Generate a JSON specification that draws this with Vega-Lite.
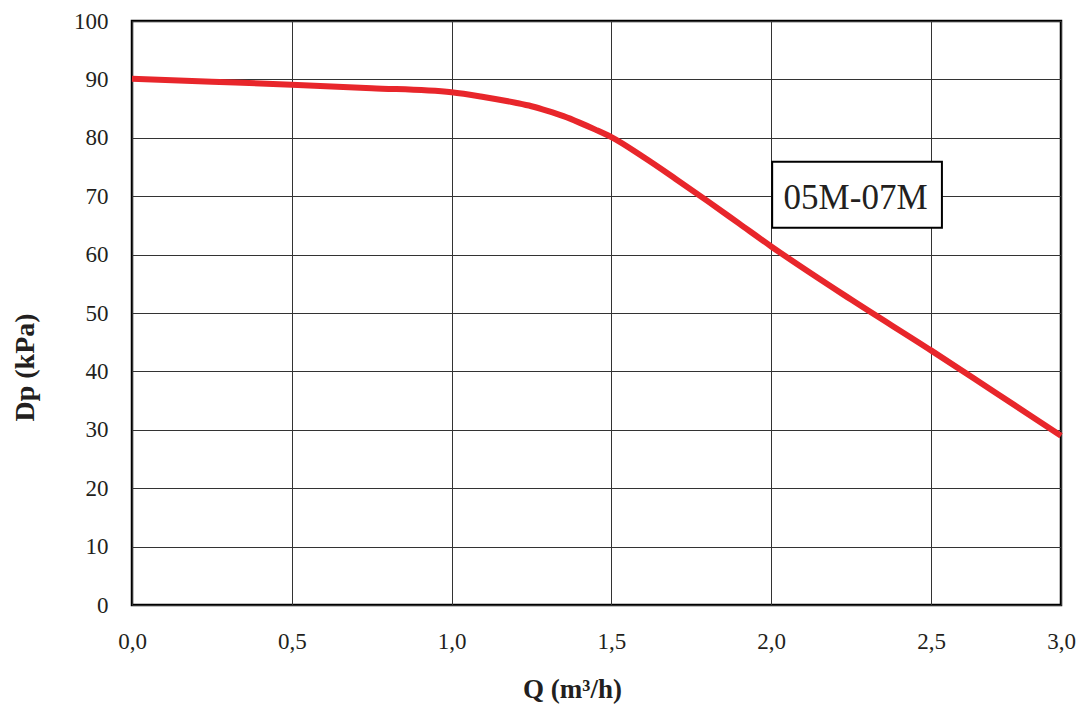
{
  "$schema": "https://vega.github.io/schema/vega-lite/v6.json",
  "width": 929,
  "height": 584,
  "autosize": {"type": "none"},
  "padding": {"left": 132, "top": 21, "right": 17, "bottom": 99},
  "background": "white",
  "config": {
    "view": {"stroke": "black", "strokeWidth": 2.5},
    "font": "Liberation Serif"
  },
  "datasets": {
    "curve": [
      {"Q": 0.0, "Dp": 90.1},
      {"Q": 0.25, "Dp": 89.6},
      {"Q": 0.5, "Dp": 89.1},
      {"Q": 0.75, "Dp": 88.5},
      {"Q": 1.0, "Dp": 87.8},
      {"Q": 1.1, "Dp": 87.0},
      {"Q": 1.2, "Dp": 86.0},
      {"Q": 1.25, "Dp": 85.4},
      {"Q": 1.3, "Dp": 84.6},
      {"Q": 1.35, "Dp": 83.7},
      {"Q": 1.4, "Dp": 82.6},
      {"Q": 1.45, "Dp": 81.4},
      {"Q": 1.5, "Dp": 80.1},
      {"Q": 1.6, "Dp": 76.7},
      {"Q": 1.7, "Dp": 73.0},
      {"Q": 1.8, "Dp": 69.2},
      {"Q": 1.9, "Dp": 65.3},
      {"Q": 2.0, "Dp": 61.4},
      {"Q": 2.25, "Dp": 52.3},
      {"Q": 2.5, "Dp": 43.6},
      {"Q": 2.75, "Dp": 36.3},
      {"Q": 3.0, "Dp": 29.0}
    ],
    "box": [
      {"Q": 2.003, "Q2": 2.542, "Dp": 75.9, "Dp2": 64.6}
    ],
    "label": [
      {"Q": 2.264, "Dp": 67.8, "name": "05M-07M"}
    ]
  },
  "layer": [
    {
      "data": {"name": "curve"},
      "mark": {"type": "line", "interpolate": "monotone", "color": "#e8262b", "strokeWidth": 6},
      "encoding": {
        "x": {
          "field": "Q",
          "type": "quantitative",
          "scale": {"domain": [0, 2.5, 3], "range": [0, 799, 929], "nice": false},
          "axis": {
            "values": [0, 0.5, 1, 1.5, 2, 2.5, 3],
            "labelExpr": "replace(format(datum.value, '.1f'), '.', ',')",
            "ticks": false,
            "domain": false,
            "labelFlush": false,
            "labelOverlap": false,
            "labelBound": false,
            "labelFont": "Liberation Serif",
            "labelFontSize": 23,
            "labelColor": "#231f20",
            "labelPadding": 25,
            "gridColor": "#333333",
            "gridWidth": 1,
            "gridOpacity": 1,
            "title": "Q (m³/h)",
            "titleFont": "Liberation Serif",
            "titleFontSize": 27,
            "titleFontWeight": "bold",
            "titleColor": "#231f20",
            "titleX": 440,
            "titleY": 92,
            "titleAlign": "center",
            "titleBaseline": "alphabetic"
          }
        },
        "y": {
          "field": "Dp",
          "type": "quantitative",
          "scale": {"domain": [0, 100], "nice": false},
          "axis": {
            "values": [0, 10, 20, 30, 40, 50, 60, 70, 80, 90, 100],
            "ticks": false,
            "domain": false,
            "labelFlush": false,
            "labelOverlap": false,
            "labelBound": false,
            "labelFont": "Liberation Serif",
            "labelFontSize": 23,
            "labelColor": "#231f20",
            "labelPadding": 24,
            "gridColor": "#333333",
            "gridWidth": 1,
            "gridOpacity": 1,
            "title": "Dp (kPa)",
            "titleFont": "Liberation Serif",
            "titleFontSize": 28,
            "titleFontWeight": "bold",
            "titleColor": "#231f20",
            "titleX": -107,
            "titleY": 346,
            "titleAngle": 270,
            "titleAlign": "center",
            "titleBaseline": "middle"
          }
        }
      }
    },
    {
      "data": {"name": "box"},
      "mark": {"type": "rect", "fill": "white", "stroke": "black", "strokeWidth": 2},
      "encoding": {
        "x": {"field": "Q", "type": "quantitative"},
        "x2": {"field": "Q2"},
        "y": {"field": "Dp", "type": "quantitative"},
        "y2": {"field": "Dp2"}
      }
    },
    {
      "data": {"name": "label"},
      "mark": {"type": "text", "font": "Liberation Serif", "fontSize": 35, "align": "center", "baseline": "alphabetic", "color": "#231f20"},
      "encoding": {
        "x": {"field": "Q", "type": "quantitative"},
        "y": {"field": "Dp", "type": "quantitative"},
        "text": {"field": "name"}
      }
    }
  ]
}
